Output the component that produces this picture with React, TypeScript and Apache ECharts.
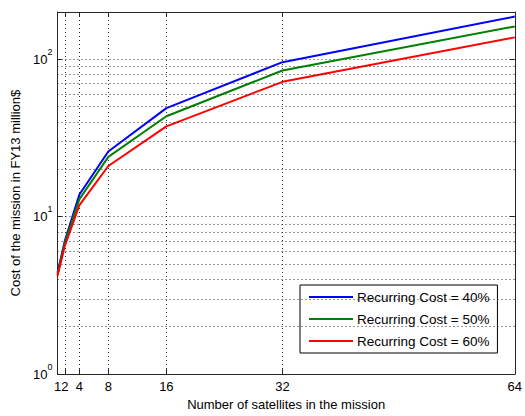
import React, { useEffect, useRef } from "react";
import * as echarts from "echarts";

const satellites = [1, 2, 4, 8, 16, 32, 64];
const xTicks = [1, 2, 4, 8, 16, 32, 64];
const cost40 = [4.4, 7.0, 13.8, 26, 49, 96, 187];
const cost50 = [4.3, 6.8, 12.9, 24, 43.5, 85, 162];
const cost60 = [4.2, 6.5, 11.8, 21, 37.5, 72, 138];
const seriesNames = ["Recurring Cost = 40%", "Recurring Cost = 50%", "Recurring Cost = 60%"];
const seriesColors = ["#0000ff", "#008000", "#ff0000"];
const yMin = 1;
const yMax = 200;
const minorGrid = [2, 3, 4, 5, 6, 7, 8, 9, 20, 30, 40, 50, 60, 70, 80, 90];

const FONT = "Arial, 'Liberation Sans', Helvetica, sans-serif";
const AXIS_COLOR = "#262626";
const GRID_LINE = { color: "#2a2a2a", width: 1, type: [1, 3] as number[] };

function isPow10(v: number) {
  const l = Math.log10(v);
  return Math.abs(l - Math.round(l)) < 1e-6;
}

export default function App() {
  const ref = useRef<HTMLDivElement>(null);
  useEffect(() => {
    if (!ref.current) return;
    const chart = echarts.init(ref.current, null, { renderer: "svg" });
    const pts = (vals: number[]) => satellites.map((x, i) => [x, vals[i]]);
    // green line: segment 16 -> 32 is thin in the reference
    const greenAll = pts(cost50);
    const greenMain = greenAll.map((p) => (p[0] > 16 && p[0] < 32 ? [p[0], null] : p));
    const i16 = satellites.indexOf(16);
    const i32 = satellites.indexOf(32);
    const greenThin = [greenAll[i16], greenAll[i32]];

    chart.setOption({
      animation: false,
      backgroundColor: "#fff",
      textStyle: { fontFamily: FONT },
      grid: { left: 57.5, right: 5, top: 12, bottom: 37.5, show: false },
      legend: {
        orient: "vertical",
        left: 300,
        top: 285,
        data: seriesNames,
        itemWidth: 44,
        itemHeight: 14,
        itemGap: 8,
        padding: [5, 8, 5, 8],
        itemStyle: { opacity: 0 },
        backgroundColor: "#fff",
        borderColor: "#000",
        borderWidth: 1,
        borderRadius: 0,
        textStyle: { fontSize: 13.5, color: "#000", fontFamily: FONT, padding: [0, 0, 0, -1] },
      },
      xAxis: [
        {
          type: "value",
          min: 1,
          max: 64,
          name: "Number of satellites in the mission",
          nameLocation: "middle",
          nameGap: 21,
          nameTextStyle: { fontSize: 13, color: "#000", fontFamily: FONT },
          axisLine: { show: true, onZero: false, lineStyle: { color: AXIS_COLOR, width: 1 } },
          axisTick: { show: true, inside: true, length: 5, customValues: xTicks, lineStyle: { color: AXIS_COLOR } },
          axisLabel: { customValues: xTicks, fontSize: 13, color: "#000", margin: 6, hideOverlap: false, fontFamily: FONT },
          splitLine: { show: true, lineStyle: GRID_LINE },
        },
        {
          type: "value",
          position: "top",
          min: 1,
          max: 64,
          axisLine: { show: true, onZero: false, lineStyle: { color: AXIS_COLOR, width: 1 } },
          axisTick: { show: true, inside: true, length: 5, customValues: xTicks, lineStyle: { color: AXIS_COLOR } },
          axisLabel: { show: false, customValues: xTicks },
          splitLine: { show: false },
        },
      ],
      yAxis: [
        {
          type: "log",
          logBase: 10,
          min: yMin,
          max: yMax,
          name: "Cost of the mission in FY13 million$",
          nameLocation: "middle",
          nameGap: 34,
          nameTextStyle: { fontSize: 13, color: "#000", fontFamily: FONT },
          axisLine: { show: true, onZero: false, lineStyle: { color: AXIS_COLOR, width: 1 } },
          axisTick: { show: true, inside: true, length: 5, lineStyle: { color: AXIS_COLOR } },
          axisLabel: {
            fontSize: 13,
            lineHeight: 24,
            color: "#000",
            margin: 5,
            fontFamily: FONT,
            formatter: (v: number) => (isPow10(v) ? "10{s|" + Math.round(Math.log10(v)) + "}" : ""),
            rich: {
              s: { fontSize: 9, lineHeight: 9, color: "#000", fontFamily: FONT, verticalAlign: "top" },
            },
          },
          splitLine: { show: true, lineStyle: GRID_LINE },
        },
        {
          type: "log",
          logBase: 10,
          min: yMin,
          max: yMax,
          position: "right",
          axisLine: { show: true, onZero: false, lineStyle: { color: AXIS_COLOR, width: 1 } },
          axisTick: { show: true, inside: true, length: 5, lineStyle: { color: AXIS_COLOR } },
          axisLabel: { show: false },
          splitLine: { show: false },
        },
      ],
      series: [
        {
          name: "minor-grid",
          type: "line",
          data: [],
          silent: true,
          markLine: {
            silent: true,
            symbol: "none",
            label: { show: false },
            lineStyle: GRID_LINE,
            data: minorGrid.map((v) => ({ yAxis: v })),
          },
        },
        {
          name: seriesNames[0],
          type: "line",
          data: pts(cost40),
          symbol: "none",
          lineStyle: { color: seriesColors[0], width: 2 },
          itemStyle: { color: seriesColors[0] },
        },
        {
          name: seriesNames[1],
          type: "line",
          data: greenMain,
          connectNulls: false,
          symbol: "none",
          lineStyle: { color: seriesColors[1], width: 2 },
          itemStyle: { color: seriesColors[1] },
        },
        {
          name: "green-thin",
          type: "line",
          data: greenThin,
          symbol: "none",
          lineStyle: { color: seriesColors[1], width: 1 },
          itemStyle: { color: seriesColors[1] },
        },
        {
          name: seriesNames[2],
          type: "line",
          data: pts(cost60),
          symbol: "none",
          lineStyle: { color: seriesColors[2], width: 2 },
          itemStyle: { color: seriesColors[2] },
        },
      ],
    });
    return () => chart.dispose();
  }, []);
  return <div ref={ref} style={{ width: 525, height: 416, position: "absolute", left: 0, top: 0 }} />;
}
